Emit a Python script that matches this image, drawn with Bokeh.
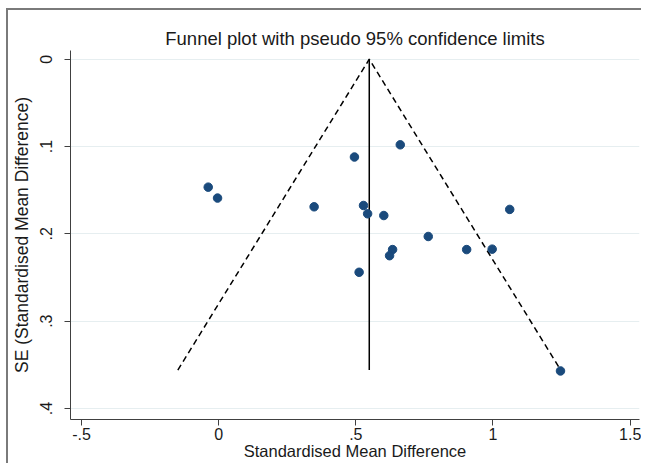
from bokeh.plotting import figure
from bokeh.models import Range1d, FixedTicker
from bokeh.embed import file_html
from bokeh.resources import INLINE

# Study data
smd = [-0.038, -0.004, 0.348, 0.495, 0.662, 0.528, 0.543, 0.602, 0.764,
       0.634, 0.623, 0.904, 0.997, 1.061, 0.512, 1.246]
se = [0.1465, 0.159, 0.169, 0.112, 0.098, 0.1675, 0.177, 0.179, 0.203,
      0.218, 0.225, 0.218, 0.2175, 0.172, 0.244, 0.357]
pooled = 0.549
se_max = 0.356
x_ticks = [-0.5, 0, 0.5, 1, 1.5]
x_tick_labels = ["-.5", "0", ".5", "1", "1.5"]
y_ticks = [0, 0.1, 0.2, 0.3, 0.4]
y_tick_labels = ["0", ".1", ".2", ".3", ".4"]

FONT = "Liberation Sans"

p = figure(width=635, height=455, output_backend="svg", toolbar_location=None,
           x_range=Range1d(-0.54, 1.534), y_range=Range1d(0.4126, -0.010),
           min_border_left=59, min_border_top=40, min_border_bottom=46,
           min_border_right=4)
p.styles = {"border-left": "2px solid #7a7a7a", "border-top": "2px solid #7a7a7a",
            "margin-left": "6px", "margin-top": "8px"}

p.title.text = "Funnel plot with pseudo 95% confidence limits"
p.title.align = "center"
p.title.text_font = FONT
p.title.text_font_size = "18.5px"
p.title.text_font_style = "normal"
p.title.text_color = "#1a1a1a"
p.title.offset = 0
p.title.standoff = 3

p.outline_line_color = None
p.background_fill_color = "white"
p.border_fill_color = "white"

p.xgrid.visible = False
p.ygrid.grid_line_color = "#e6eef0"
p.ygrid.grid_line_width = 1

p.xaxis.ticker = FixedTicker(ticks=x_ticks)
p.xaxis.major_label_overrides = {t: l for t, l in zip(x_ticks, x_tick_labels)}
p.yaxis.ticker = FixedTicker(ticks=y_ticks)
p.yaxis.major_label_overrides = {t: l for t, l in zip(y_ticks, y_tick_labels)}
p.yaxis.major_label_orientation = "vertical"

p.xaxis.axis_label = "Standardised Mean Difference"
p.yaxis.axis_label = "SE (Standardised Mean Difference)"
for ax in (p.xaxis, p.yaxis):
    ax.axis_line_color = "#404040"
    ax.major_tick_line_color = "#404040"
    ax.major_tick_out = 6
    ax.major_tick_in = 0
    ax.minor_tick_line_color = None
    ax.major_label_text_font = FONT
    ax.major_label_text_font_size = "16px"
    ax.major_label_text_color = "#1a1a1a"
    ax.axis_label_text_font = FONT
    ax.axis_label_text_font_style = "normal"
    ax.axis_label_text_color = "#1a1a1a"
p.xaxis.axis_label_text_font_size = "16.5px"
p.yaxis.axis_label_text_font_size = "17.5px"
p.xaxis.major_label_standoff = 2
p.xaxis.axis_label_standoff = -1
p.yaxis.major_label_standoff = 12
p.yaxis.axis_label_standoff = 6

# pseudo 95% confidence limits
lo = pooled - 1.96 * se_max
hi = pooled + 1.96 * se_max
p.line([lo, pooled, hi], [se_max, 0, se_max], line_color="black",
       line_width=1.5, line_dash="6 4")
p.line([pooled, pooled], [0, se_max], line_color="black", line_width=1.5)

p.scatter(smd, se, size=8.5, fill_color="#1a4a7c", line_color="#1a4a7c")

open("out.html", "w").write(file_html(p, INLINE))
